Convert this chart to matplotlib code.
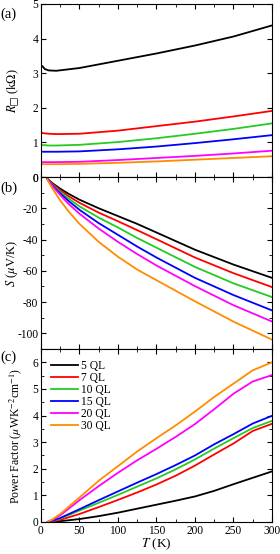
import numpy as np
import matplotlib
matplotlib.use("Agg")
import matplotlib.pyplot as plt
from matplotlib.ticker import MultipleLocator, NullLocator

plt.rcParams['font.family'] = ['Liberation Serif', 'DejaVu Serif']
plt.rcParams['mathtext.fontset'] = 'stix'
plt.rcParams['axes.unicode_minus'] = False

labels = ["5 QL", "7 QL", "10 QL", "15 QL", "20 QL", "30 QL"]
colors = ["black", "red", "#22cc22", "blue", "magenta", "#ff8c00"]

# (a) sheet resistance, kOhm
T_R = [2, 5, 10, 20, 50, 100, 150, 200, 250, 300]
R = [
    [3.20, 3.12, 3.08, 3.07, 3.15, 3.36, 3.57, 3.80, 4.06, 4.38],
    [1.27, 1.26, 1.25, 1.24, 1.25, 1.34, 1.47, 1.60, 1.75, 1.91],
    [0.92, 0.92, 0.91, 0.91, 0.93, 1.01, 1.12, 1.25, 1.39, 1.55],
    [0.73, 0.73, 0.73, 0.73, 0.74, 0.80, 0.88, 0.98, 1.09, 1.21],
    [0.43, 0.43, 0.43, 0.43, 0.44, 0.49, 0.55, 0.61, 0.68, 0.76],
    [0.37, 0.37, 0.37, 0.37, 0.38, 0.41, 0.45, 0.50, 0.55, 0.60],
]

# (b) Seebeck coefficient, uV/K
T_S = [8, 15, 25, 35, 50, 75, 100, 125, 150, 200, 250, 300]
S = [
    [-1.0, -4.0, -7.5, -10.5, -14.5, -20.0, -25.0, -30.0, -35.5, -46.5, -56.0, -64.5],
    [-1.0, -4.5, -8.5, -12.0, -16.5, -22.8, -28.3, -34.0, -39.8, -51.5, -61.5, -70.4],
    [-1.2, -5.0, -9.5, -13.5, -18.8, -26.0, -32.3, -39.0, -45.2, -57.5, -68.0, -76.8],
    [-1.3, -5.5, -10.5, -15.0, -21.0, -29.5, -37.0, -44.5, -51.5, -64.5, -75.5, -85.3],
    [-1.4, -6.0, -11.5, -16.8, -23.5, -33.0, -41.5, -49.3, -56.6, -69.8, -82.0, -92.4],
    [-1.5, -7.5, -15.0, -21.5, -30.0, -41.5, -51.0, -59.2, -66.0, -79.5, -92.5, -104.0],
]

# (c) power factor, uW K^-2 cm^-1
T_P = [8, 15, 25, 50, 75, 100, 125, 150, 175, 200, 225, 250, 275, 300]
P = [
    [0.0, 0.01, 0.03, 0.11, 0.22, 0.35, 0.50, 0.65, 0.80, 0.96, 1.17, 1.42, 1.66, 1.90],
    [0.0, 0.02, 0.08, 0.30, 0.56, 0.83, 1.11, 1.41, 1.74, 2.12, 2.54, 2.95, 3.42, 3.69],
    [0.0, 0.04, 0.13, 0.43, 0.72, 1.02, 1.33, 1.64, 1.98, 2.35, 2.76, 3.15, 3.53, 3.80],
    [0.0, 0.05, 0.15, 0.48, 0.82, 1.15, 1.48, 1.80, 2.14, 2.50, 2.92, 3.30, 3.70, 3.99],
    [0.0, 0.08, 0.25, 0.82, 1.35, 1.85, 2.32, 2.75, 3.20, 3.68, 4.24, 4.82, 5.28, 5.52],
    [0.0, 0.10, 0.30, 0.92, 1.55, 2.10, 2.65, 3.15, 3.63, 4.15, 4.70, 5.20, 5.70, 6.00],
]

fig = plt.figure(figsize=(2.8, 5.54), dpi=100)
L, W = 0.1464, 0.825
ax1 = fig.add_axes([L, 0.6805, W, 0.3123])
ax2 = fig.add_axes([L, 0.3700, W, 0.3105])
ax3 = fig.add_axes([L, 0.0578, W, 0.3122])

for i in range(6):
    ax1.plot(T_R, R[i], color=colors[i], lw=1.3)
    ax2.plot(T_S, S[i], color=colors[i], lw=1.3)
    ax3.plot(T_P, P[i], color=colors[i], lw=1.3, label=labels[i])

ax1.set_ylim(0, 5)
ax1.yaxis.set_major_locator(MultipleLocator(1))
ax2.set_ylim(-110, 0)
ax2.yaxis.set_major_locator(MultipleLocator(20))
ax3.set_ylim(0, 6.5)
ax3.yaxis.set_major_locator(MultipleLocator(1))

for ax in (ax1, ax2, ax3):
    ax.set_xlim(0, 300)
    ax.xaxis.set_major_locator(MultipleLocator(50))
    ax.xaxis.set_minor_locator(MultipleLocator(25))
    ax.tick_params(which='both', direction='in', top=True, right=True,
                   labelsize=8.3, pad=2)
    ax.tick_params(which='major', length=3.5, width=0.8)
    ax.tick_params(which='minor', length=2, width=0.6)
ax1.yaxis.set_minor_locator(NullLocator())
ax2.yaxis.set_minor_locator(MultipleLocator(10))
ax3.yaxis.set_minor_locator(MultipleLocator(0.5))
ax1.tick_params(labelbottom=False)
ax2.tick_params(labelbottom=False)

ax1.set_ylabel(r'$R_{□}$ (k$\Omega$)', fontsize=9)
ax2.set_ylabel(r'$S$ ($\mu$V/K)', fontsize=9)
ax3.set_ylabel(r'Power Factor ($\mu$WK$^{-2}$cm$^{-1}$)', fontsize=8.5)
ax3.set_xlabel(r'$T$ (K)', fontsize=9.5)
ax1.yaxis.set_label_coords(-0.12, 0.5)
ax2.yaxis.set_label_coords(-0.125, 0.5)
ax3.yaxis.set_label_coords(-0.108, 0.5)
ax3.xaxis.set_label_coords(0.5, -0.128)
ax1.yaxis.label.set_va('center')
ax2.yaxis.label.set_va('center')
ax3.yaxis.label.set_va('center')
ax3.xaxis.label.set_va('center')

fig.text(0.0, 0.975, "(a)", fontsize=10.5, va='center')
fig.text(0.0, 0.660, "(b)", fontsize=10.5, va='center')
fig.text(0.0, 0.356, "(c)", fontsize=10.5, va='center')

ax3.legend(loc='upper left', frameon=False, fontsize=8.3, handlelength=2.3,
           handletextpad=0.3, labelspacing=0.0, borderaxespad=0.0,
           bbox_to_anchor=(0.025, 0.965))

fig.savefig("out.png", dpi=100)
